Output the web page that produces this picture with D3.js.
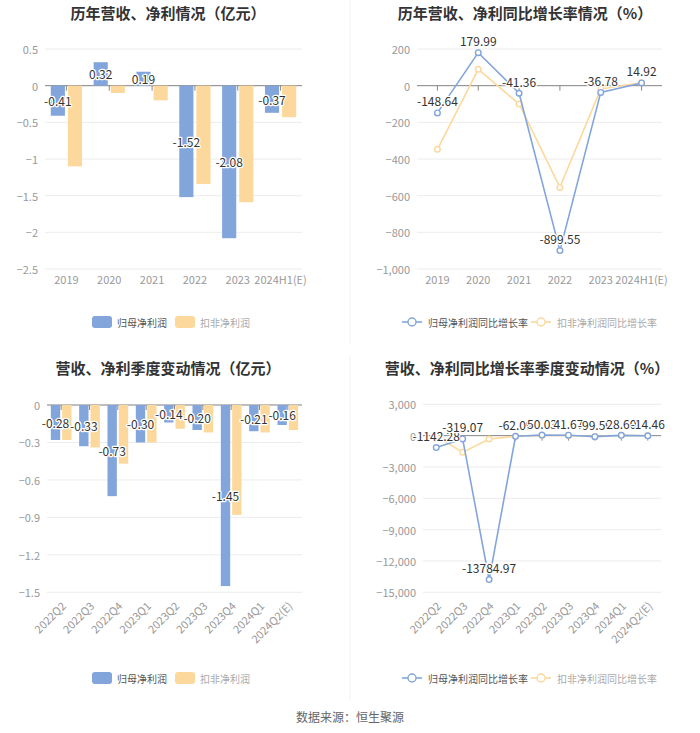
<!DOCTYPE html>
<html><head><meta charset="utf-8">
<script src="https://cdn.jsdelivr.net/npm/d3@7"></script>
<style>
body{margin:0;background:#fff;}
svg{display:block;font-family:"Noto Sans CJK SC","Noto Sans",sans-serif;}
</style></head>
<body><svg id="c" width="700" height="733"></svg>
<script>
// ---------- data ----------
const yearCats = ["2019","2020","2021","2022","2023","2024H1(E)"];
const yearNetProfit = [-0.41, 0.32, 0.19, -1.52, -2.08, -0.37];
const yearDeductProfit = [-1.10, -0.10, -0.20, -1.34, -1.59, -0.43];
const yearTicks = [0.5, 0, -0.5, -1, -1.5, -2, -2.5];

const yearNetGrowth = [-148.64, 179.99, -41.36, -899.55, -36.78, 14.92];
const yearDeductGrowth = [-347, 89, -100, -555, -18, 16];
const yearGrowthTicks = [200, 0, -200, -400, -600, -800, -1000];

const qCats = ["2022Q2","2022Q3","2022Q4","2023Q1","2023Q2","2023Q3","2023Q4","2024Q1","2024Q2(E)"];
const qNetProfit = [-0.28, -0.33, -0.73, -0.30, -0.14, -0.20, -1.45, -0.21, -0.16];
const qDeductProfit = [-0.28, -0.34, -0.47, -0.30, -0.19, -0.22, -0.88, -0.22, -0.20];
const qTicks = [0, -0.3, -0.6, -0.9, -1.2, -1.5];

const qNetGrowth = [-1142.28, -319.07, -13784.97, -62.09, 50.03, 41.67, -99.59, 28.60, -14.46];
const qDeductGrowth = [-50, -1600, -320, -60, 20, 10, -80, 30, -10];
const qGrowthTicks = [3000, 0, -3000, -6000, -9000, -12000, -15000];

const titles = ["历年营收、净利情况（亿元）","历年营收、净利同比增长率情况（%）","营收、净利季度变动情况（亿元）","营收、净利同比增长率季度变动情况（%）"];
const barLegend = ["归母净利润","扣非净利润"];
const lineLegend = ["归母净利润同比增长率","扣非净利润同比增长率"];
const sourceText = "数据来源：恒生聚源";

// ---------- style ----------
const BLUE = "#82a5dc", ORANGE = "#fdd89c";
const svg = d3.select("#c");

// dividers
svg.append("line").attr("x1",350).attr("x2",350).attr("y1",0).attr("y2",345).attr("stroke","#f2f2f2");
svg.append("line").attr("x1",350).attr("x2",350).attr("y1",355).attr("y2",700).attr("stroke","#f2f2f2");

function title(txt, x, y){
  svg.append("text").attr("x",x).attr("y",y).attr("text-anchor","middle").attr("dominant-baseline","central")
    .attr("font-size",15).attr("font-weight","bold").attr("fill","#333").text(txt);
}
title(titles[0],168,12);
title(titles[1],525,12);
title(titles[2],168,367);
title(titles[3],527,367);

function axes(g, x, y, ticks, fmt, rotate){
  const [x0,x1] = x.range();
  g.selectAll(".grid").data(ticks).join("line")
    .attr("x1",x0).attr("x2",x1).attr("y1",d=>y(d)).attr("y2",d=>y(d))
    .attr("stroke","#ececec");
  g.selectAll(".yl").data(ticks).join("text")
    .attr("x",x0-7).attr("y",d=>y(d)).attr("text-anchor","end").attr("dominant-baseline","central")
    .attr("font-size",11).attr("fill","#999").text(fmt);
  g.append("line").attr("x1",x0).attr("x2",x1).attr("y1",y(0)).attr("y2",y(0)).attr("stroke","#888");
  const cats = x.domain();
  g.selectAll(".tk").data(cats).join("line")
    .attr("x1",d=>x(d)+x.bandwidth()/2).attr("x2",d=>x(d)+x.bandwidth()/2)
    .attr("y1",y(0)).attr("y2",y(0)+5).attr("stroke","#888");
  const yb = y.range()[0];
  if(!rotate){
    g.selectAll(".xl").data(cats).join("text")
      .attr("x",d=>x(d)+x.bandwidth()/2).attr("y",yb+10).attr("text-anchor","middle").attr("dominant-baseline","central")
      .attr("font-size",11).attr("fill","#999").text(d=>d);
  } else {
    g.selectAll(".xl").data(cats).join("text")
      .attr("transform",d=>`translate(${x(d)+x.bandwidth()/2+2},${yb+11}) rotate(-45)`)
      .attr("text-anchor","end").attr("dominant-baseline","central")
      .attr("font-size",11).attr("fill","#999").text(d=>d);
  }
}

function label(g, x, y, txt){
  g.append("text").attr("x",x).attr("y",y).attr("text-anchor","middle").attr("dominant-baseline","central")
    .attr("font-size",12).attr("fill","#333").attr("stroke","#fff").attr("stroke-width",2.5)
    .attr("paint-order","stroke").attr("stroke-linejoin","round").text(txt);
}

function barChart(cats, s1, s2, ticks, xr, yr, dom, fmt, rotate){
  const g = svg.append("g");
  const x = d3.scaleBand().domain(cats).range(xr);
  const y = d3.scaleLinear().domain(dom).range(yr);
  axes(g, x, y, ticks, fmt, rotate);
  const bw = x.bandwidth()*0.33, gap = x.bandwidth()*0.07;
  const cx = d=>x(d)+x.bandwidth()/2;
  g.selectAll(".b1").data(cats).join("rect")
    .attr("x",d=>cx(d)-gap/2-bw).attr("width",bw)
    .attr("y",(d,i)=>Math.min(y(0),y(s1[i]))).attr("height",(d,i)=>Math.abs(y(s1[i])-y(0)))
    .attr("fill",BLUE);
  g.selectAll(".b2").data(cats).join("rect")
    .attr("x",d=>cx(d)+gap/2).attr("width",bw)
    .attr("y",(d,i)=>Math.min(y(0),y(s2[i]))).attr("height",(d,i)=>Math.abs(y(s2[i])-y(0)))
    .attr("fill",ORANGE);
  cats.forEach((d,i)=>label(g, cx(d)-gap/2-bw/2, (y(0)+y(s1[i]))/2, s1[i].toFixed(2)));
}

function lineChart(cats, s1, s2, ticks, xr, yr, dom, fmt, rotate){
  const g = svg.append("g");
  const x = d3.scaleBand().domain(cats).range(xr);
  const y = d3.scaleLinear().domain(dom).range(yr);
  axes(g, x, y, ticks, fmt, rotate);
  const cx = d=>x(d)+x.bandwidth()/2;
  const line = d3.line().x((v,i)=>cx(cats[i])).y(v=>y(v));
  [[s2,ORANGE],[s1,BLUE]].forEach(([s,c])=>{
    g.append("path").attr("d",line(s)).attr("fill","none").attr("stroke",c).attr("stroke-width",1.6);
    g.selectAll(null).data(s).join("circle").attr("cx",(v,i)=>cx(cats[i])).attr("cy",v=>y(v)).attr("r",2.8)
      .attr("fill","#fff").attr("stroke",c).attr("stroke-width",1.4);
  });
  s1.forEach((v,i)=>label(g, cx(cats[i]), y(v)-12, v.toFixed(2)));
}

const f1 = d=>d3.format("")(d);
const fComma = d=>d3.format(",")(d);

barChart(yearCats, yearNetProfit, yearDeductProfit, yearTicks, [45,302], [269,49], [-2.5,0.5], f1, false);
lineChart(yearCats, yearNetGrowth, yearDeductGrowth, yearGrowthTicks, [417,662], [269,49], [-1000,200], fComma, false);
barChart(qCats, qNetProfit, qDeductProfit, qTicks, [47,302], [592.3,405], [-1.5,0], f1, true);
lineChart(qCats, qNetGrowth, qDeductGrowth, qGrowthTicks, [423,661], [592.3,404.3], [-15000,3000], fComma, true);

// legends
function barLegendAt(x, y){
  const g = svg.append("g");
  g.append("rect").attr("x",x).attr("y",y-6).attr("width",20).attr("height",12).attr("rx",3).attr("fill",BLUE);
  g.append("text").attr("x",x+25).attr("y",y).attr("dominant-baseline","central").attr("font-size",10).attr("fill","#555").text(barLegend[0]);
  g.append("rect").attr("x",x+83).attr("y",y-6).attr("width",20).attr("height",12).attr("rx",3).attr("fill",ORANGE);
  g.append("text").attr("x",x+108).attr("y",y).attr("dominant-baseline","central").attr("font-size",10).attr("fill","#aaa").text(barLegend[1]);
}
function lineLegendAt(x, y){
  const g = svg.append("g");
  [[BLUE,"#555",0],[ORANGE,"#aaa",129]].forEach(([c,tc,dx],i)=>{
    g.append("line").attr("x1",x+dx).attr("x2",x+dx+20).attr("y1",y).attr("y2",y).attr("stroke",c).attr("stroke-width",1.6);
    g.append("circle").attr("cx",x+dx+10).attr("cy",y).attr("r",4).attr("fill","#fff").attr("stroke",c).attr("stroke-width",1.4);
    g.append("text").attr("x",x+dx+26).attr("y",y).attr("dominant-baseline","central").attr("font-size",10).attr("fill",tc).text(lineLegend[i]);
  });
}
barLegendAt(92,322);
lineLegendAt(402,322);
barLegendAt(92,678);
lineLegendAt(402,678);

svg.append("text").attr("x",350).attr("y",716).attr("text-anchor","middle").attr("dominant-baseline","central")
  .attr("font-size",12).attr("fill","#666").text(sourceText);
</script></body></html>
